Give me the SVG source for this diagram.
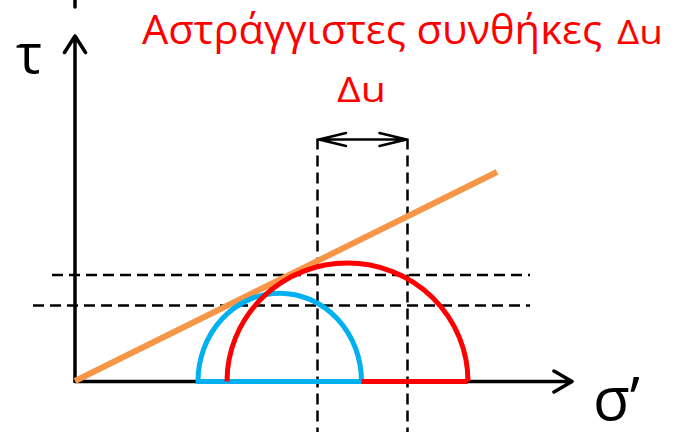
<svg xmlns="http://www.w3.org/2000/svg" width="675" height="437" viewBox="0 0 675 437">
<style>
.ax{stroke:#000;stroke-width:3.5;fill:none;stroke-linecap:round;stroke-linejoin:round}
.dash{stroke:#000;stroke-width:2.5;fill:none;stroke-dasharray:11 6}
.dim{stroke:#000;stroke-width:2.5;fill:none;stroke-linecap:round;stroke-linejoin:round}
.red{font-family:"Open Sans","Noto Sans","Liberation Sans",sans-serif;fill:#FF0000}
.blk{font-family:"Open Sans","Noto Sans","Liberation Sans",sans-serif;fill:#000}
</style>
<rect width="675" height="437" fill="#fff"/>
<g id="guides">
<line class="dash" x1="52" y1="275" x2="530" y2="275"/>
<line class="dash" x1="33" y1="305.5" x2="530" y2="305.5"/>
<line class="dash" x1="317.5" y1="138.5" x2="317.5" y2="432"/>
<line class="dash" x1="407.5" y1="138.5" x2="407.5" y2="432"/>
</g>
<g id="axes">
<line class="ax" x1="75" y1="0" x2="75" y2="7"/>
<path class="ax" d="M75 381.5V36M64.5 52.5L75 36L85.5 52.5"/>
<path class="ax" d="M75 381.5H572M554 371L572 381.5L554 392"/>
</g>
<g id="connectors">
<line id="failure-envelope" x1="75" y1="381" x2="497" y2="172" stroke="#F79646" stroke-width="6"/>
<path id="dimension-du" class="dim" d="M319 139.5H406.5M346 133L319 139.5L346 146M379.5 133L406.5 139.5L379.5 146"/>
</g>
<g id="circle-blue">
<path d="M198 381.5A81.7 88.3 0 0 1 361.5 381.5Z" fill="none" stroke="#00B0F0" stroke-width="5"/>
</g>
<g id="circle-red">
<path d="M361.5 381.5H468" fill="none" stroke="#FF0000" stroke-width="5"/>
<path d="M227 381.5A120.5 118.5 0 0 1 468 381.5" fill="none" stroke="#FF0000" stroke-width="5"/>
</g>
<g id="title">
<text class="red" x="142" y="44" font-size="40" textLength="460" lengthAdjust="spacingAndGlyphs">Αστράγγιστες συνθήκες</text>
<text class="red" x="617" y="44" font-size="33" textLength="46" lengthAdjust="spacingAndGlyphs">Δu</text>
</g>
<g id="label-du">
<text class="red" x="337" y="102" font-size="34" textLength="49" lengthAdjust="spacingAndGlyphs">Δu</text>
</g>
<g id="label-tau">
<text class="blk" x="16" y="73" font-size="55">τ</text>
</g>
<g id="label-sigma">
<text class="blk" x="593" y="420" font-size="60">σ’</text>
</g>
</svg>
